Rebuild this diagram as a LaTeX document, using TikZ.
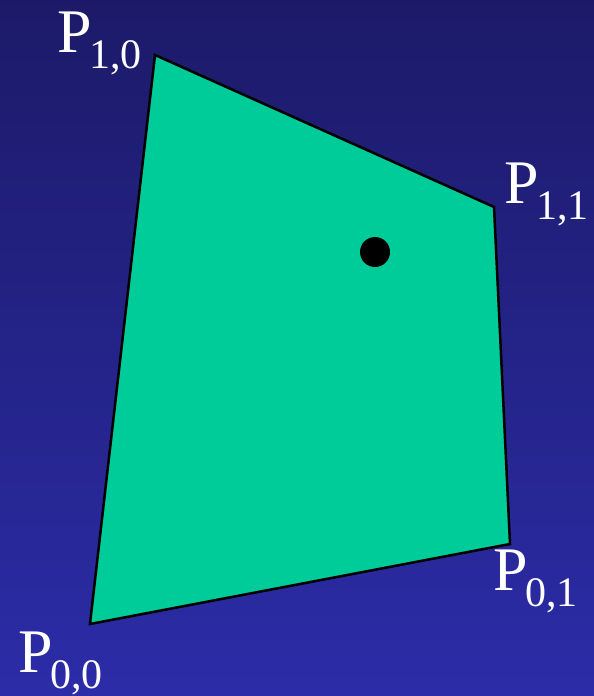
\documentclass[tikz,border=0pt]{standalone}
\usepackage{fontspec}
\setmainfont{Liberation Serif}
\definecolor{bgtop}{RGB}{28,26,104}
\definecolor{bgbot}{RGB}{44,44,168}
\definecolor{quad}{RGB}{0,204,153}
\newcommand{\plabel}[1]{{\fontsize{62}{62}\selectfont P}\kern-2pt\raisebox{-16pt}{\fontsize{42}{42}\selectfont #1}}
\tikzset{
  lbl/.style={anchor=base west, inner sep=0pt, outer sep=0pt, text=white},
  quadline/.style={draw=black, line width=2.5pt, fill=quad, line join=miter},
}
\begin{document}
\begin{tikzpicture}[x=1pt,y=-1pt]
\shade[top color=bgtop, bottom color=bgbot] (0,0) rectangle (594,696);
\useasboundingbox (0,0) rectangle (594,696);
\coordinate (p10) at (155,55);
\coordinate (p11) at (494,207);
\coordinate (p01) at (510,544);
\coordinate (p00) at (90,624);
\draw[quadline] (p10) -- (p11) -- (p01) -- (p00) -- cycle;
\node[circle, fill=black, inner sep=0pt, minimum size=30pt] (dot) at (375,252) {};
\node[lbl] (l10) at (57,52) {\plabel{1,0}};
\node[lbl] (l11) at (504,203) {\plabel{1,1}};
\node[lbl] (l01) at (493,590) {\plabel{0,1}};
\node[lbl] (l00) at (18,672) {\plabel{0,0}};
\end{tikzpicture}
\end{document}
